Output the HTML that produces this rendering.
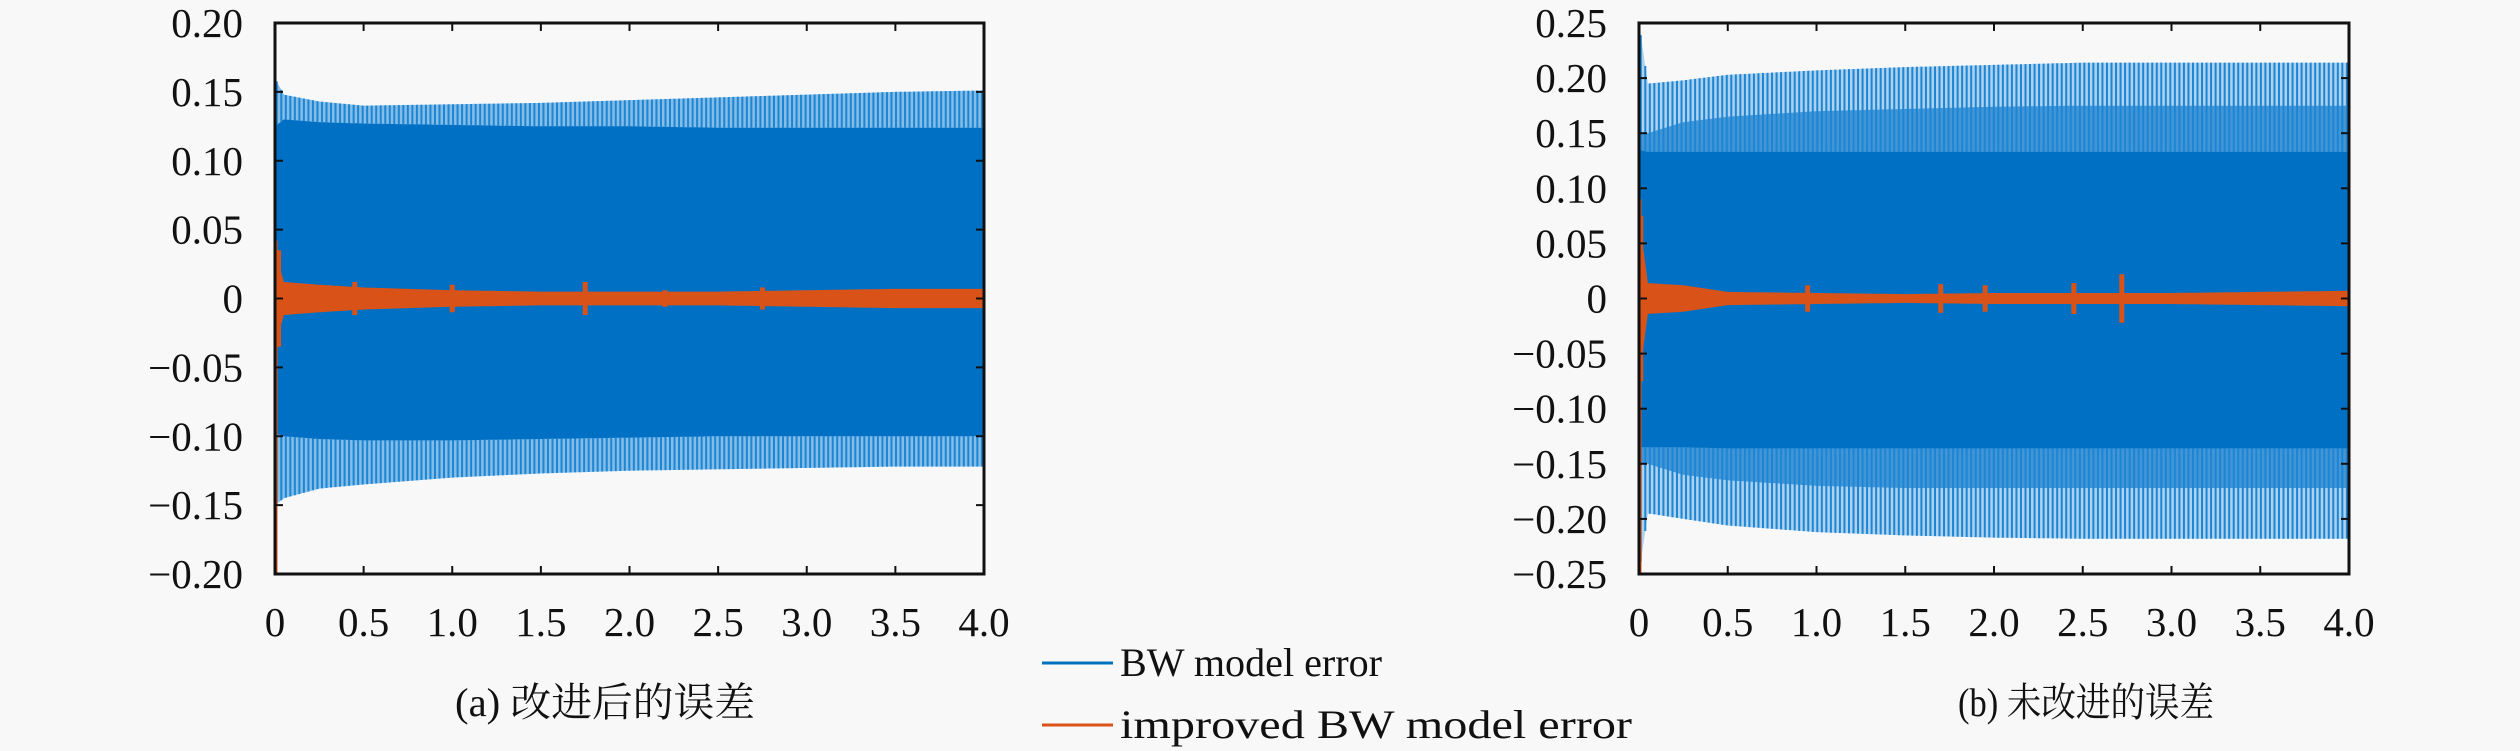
<!DOCTYPE html>
<html><head><meta charset="utf-8">
<style>
html,body{margin:0;padding:0;background:#f8f8f8;}
svg{display:block;}
text{font-family:"Liberation Serif","Noto Serif CJK SC",serif;fill:#111;}
</style></head>
<body>
<svg id="fig" width="2520" height="751" viewBox="0 0 2520 751" xmlns="http://www.w3.org/2000/svg">
<rect width="2520" height="751" fill="#f8f8f8"/>
<g id="pa"></g>
<g id="pb"></g>
<g>
  <g>
    <line x1="1042" y1="663" x2="1113" y2="663" stroke="#0072BD" stroke-width="3"/>
    <text x="1120" y="676" font-size="40" textLength="262" lengthAdjust="spacingAndGlyphs">BW model error</text>
  </g>
  <g>
    <line x1="1042" y1="725" x2="1113" y2="725" stroke="#D95319" stroke-width="3"/>
    <text x="1120" y="738" font-size="40" textLength="512" lengthAdjust="spacingAndGlyphs">improved BW model error</text>
  </g>
</g>
<text x="455" y="716" font-size="40" textLength="300" lengthAdjust="spacingAndGlyphs">(a) 改进后的误差</text>
<text x="1958" y="716" font-size="40" textLength="256" lengthAdjust="spacingAndGlyphs">(b) 未改进的误差</text>
</svg>
<script>
// x ticks
const xTicks = [0,0.5,1.0,1.5,2.0,2.5,3.0,3.5,4.0];
const xTickLabels = ["0","0.5","1.0","1.5","2.0","2.5","3.0","3.5","4.0"];
// envelope sample times
const envTimes = [0,0.05,0.25,0.5,1.0,1.5,2.0,2.5,3.0,3.5,4.0];
// panel (a)
const aYTicks = [0.20,0.15,0.10,0.05,0,-0.05,-0.10,-0.15,-0.20];
const aYTickLabels = ["0.20","0.15","0.10","0.05","0","\u22120.05","\u22120.10","\u22120.15","\u22120.20"];
const aUpperPeak = [0.16,0.148,0.143,0.140,0.141,0.142,0.144,0.146,0.148,0.150,0.151];
const aUpperDense = [0.125,0.130,0.128,0.127,0.126,0.125,0.125,0.124,0.124,0.124,0.124];
const aLowerDense = [-0.098,-0.100,-0.102,-0.103,-0.103,-0.102,-0.101,-0.100,-0.100,-0.100,-0.100];
const aLowerPeak = [-0.15,-0.145,-0.138,-0.135,-0.130,-0.127,-0.125,-0.124,-0.123,-0.122,-0.122];
const aRedAmp = [0.035,0.012,0.010,0.008,0.006,0.005,0.005,0.005,0.006,0.007,0.007];
const aRedBursts = [[0.02,0.035],[0.45,0.012],[1.0,0.010],[1.75,0.012],[2.2,0.006],[2.75,0.008]];
// panel (b)
const bYTicks = [0.25,0.20,0.15,0.10,0.05,0,-0.05,-0.10,-0.15,-0.20,-0.25];
const bYTickLabels = ["0.25","0.20","0.15","0.10","0.05","0","\u22120.05","\u22120.10","\u22120.15","\u22120.20","\u22120.25"];
const bUpperPeak = [0.25,0.195,0.198,0.203,0.207,0.210,0.212,0.214,0.214,0.214,0.214];
const bUpperMid = [0.15,0.150,0.160,0.165,0.170,0.172,0.174,0.175,0.175,0.175,0.175];
const bUpperDense = [0.135,0.133,0.133,0.133,0.133,0.133,0.133,0.133,0.133,0.133,0.133];
const bLowerDense = [-0.135,-0.135,-0.135,-0.136,-0.136,-0.136,-0.136,-0.136,-0.136,-0.136,-0.136];
const bLowerMid = [-0.15,-0.150,-0.160,-0.165,-0.170,-0.172,-0.172,-0.172,-0.172,-0.172,-0.172];
const bLowerPeak = [-0.25,-0.195,-0.200,-0.206,-0.212,-0.215,-0.217,-0.218,-0.218,-0.218,-0.218];
const bRedAmp = [0.075,0.014,0.012,0.006,0.005,0.004,0.005,0.005,0.005,0.006,0.007];
const bRedBursts = [[0.01,0.075],[0.95,0.012],[1.7,0.013],[1.95,0.012],[2.45,0.014],[2.72,0.022]];

const NS="http://www.w3.org/2000/svg";
function mk(tag,attrs,parent){const e=document.createElementNS(NS,tag);for(const k in attrs)e.setAttribute(k,attrs[k]);parent.appendChild(e);return e;}
function env(arr,t){for(let i=0;i<envTimes.length-1;i++){if(t<=envTimes[i+1]){const f=(t-envTimes[i])/(envTimes[i+1]-envTimes[i]);return arr[i]+(arr[i+1]-arr[i])*f;}}return arr[arr.length-1];}

function panel(g,x0,x1,y0,y1,ymin,ymax,yTicks,yLabels,layers,redAmp,bursts,name){
  const sx=v=>x0+(v-0)/(4-0)*(x1-x0);
  const sy=v=>y1-(v-ymin)/(ymax-ymin)*(y1-y0);
  const ts=[];for(let t=0;t<=4.0001;t+=0.01)ts.push(t);
  layers.forEach((L,li)=>{
    let d="";ts.forEach((t,i)=>{d+=(i?"L":"M")+sx(t).toFixed(1)+","+sy(env(L.top,t)).toFixed(1);});
    for(let i=ts.length-1;i>=0;i--){d+="L"+sx(ts[i]).toFixed(1)+","+sy(env(L.bot,ts[i])).toFixed(1);}
    const p=mk("path",{d:d+"Z",fill:L.fill,opacity:L.op},g);
    
    
  });
  const sp=mk("g",{stroke:"#1a86d6","stroke-width":"2"},g);
  
  
  for(let t=0.01;t<=3.99;t+=0.0255){
    const up=layers[0].top, lo=layers[0].bot;
    mk("line",{x1:sx(t),x2:sx(t),y1:sy(env(up,t)),y2:sy(env(layers[layers.length-1].top,t))},sp);
    mk("line",{x1:sx(t),x2:sx(t),y1:sy(env(lo,t)),y2:sy(env(layers[layers.length-1].bot,t))},sp);
  }
  let d="";ts.forEach((t,i)=>{d+=(i?"L":"M")+sx(t).toFixed(1)+","+sy(env(redAmp,t)).toFixed(1);});
  for(let i=ts.length-1;i>=0;i--){d+="L"+sx(ts[i]).toFixed(1)+","+sy(-env(redAmp,ts[i])).toFixed(1);}
  const rp=mk("path",{d:d+"Z",fill:"#D95319"},g);
  
  
  bursts.forEach(b=>{
    const l=mk("line",{x1:sx(b[0]),x2:sx(b[0]),y1:sy(b[1]),y2:sy(-b[1]),stroke:"#D95319","stroke-width":"5"},g);
    
    
  });
  const rl=mk("line",{x1:x0+1,x2:x0+1,y1:sy(redAmp[0]*1.2),y2:y1,stroke:"#D95319","stroke-width":"3"},g);
  
  
  const fr=mk("rect",{x:x0,y:y0,width:x1-x0,height:y1-y0,fill:"none",stroke:"#111","stroke-width":"3"},g);
  
  
  xTicks.forEach((v,i)=>{
    const x=sx(v);
    mk("line",{x1:x,x2:x,y1:y0,y2:y0+8,stroke:"#111","stroke-width":"2"},g);
    mk("line",{x1:x,x2:x,y1:y1,y2:y1-8,stroke:"#111","stroke-width":"2"},g);
    const t=mk("text",{x:x,y:636,"font-size":"41","text-anchor":"middle"},g);
    t.textContent=xTickLabels[i];
    
    
  });
  yTicks.forEach((v,i)=>{
    const y=sy(v);
    mk("line",{x1:x0,x2:x0+8,y1:y,y2:y,stroke:"#111","stroke-width":"2"},g);
    mk("line",{x1:x1,x2:x1-8,y1:y,y2:y,stroke:"#111","stroke-width":"2"},g);
    const t=mk("text",{x:x0-32,y:y+14,"font-size":"41","text-anchor":"end"},g);
    t.textContent=yLabels[i];
    
    
  });
}
panel(document.getElementById("pa"),275,984,23,574,-0.20,0.20,aYTicks,aYTickLabels,
  [{top:aUpperPeak,bot:aLowerPeak,fill:"#2a8ad6",op:0.55},{top:aUpperDense,bot:aLowerDense,fill:"#0070C4",op:1}],
  aRedAmp,aRedBursts,"panel-a");
panel(document.getElementById("pb"),1639,2349,23,574,-0.25,0.25,bYTicks,bYTickLabels,
  [{top:bUpperPeak,bot:bLowerPeak,fill:"#2a8ad6",op:0.35},{top:bUpperMid,bot:bLowerMid,fill:"#2a86cf",op:0.8},{top:bUpperDense,bot:bLowerDense,fill:"#0070C4",op:1}],
  bRedAmp,bRedBursts,"panel-b");
</script>
</body></html>
